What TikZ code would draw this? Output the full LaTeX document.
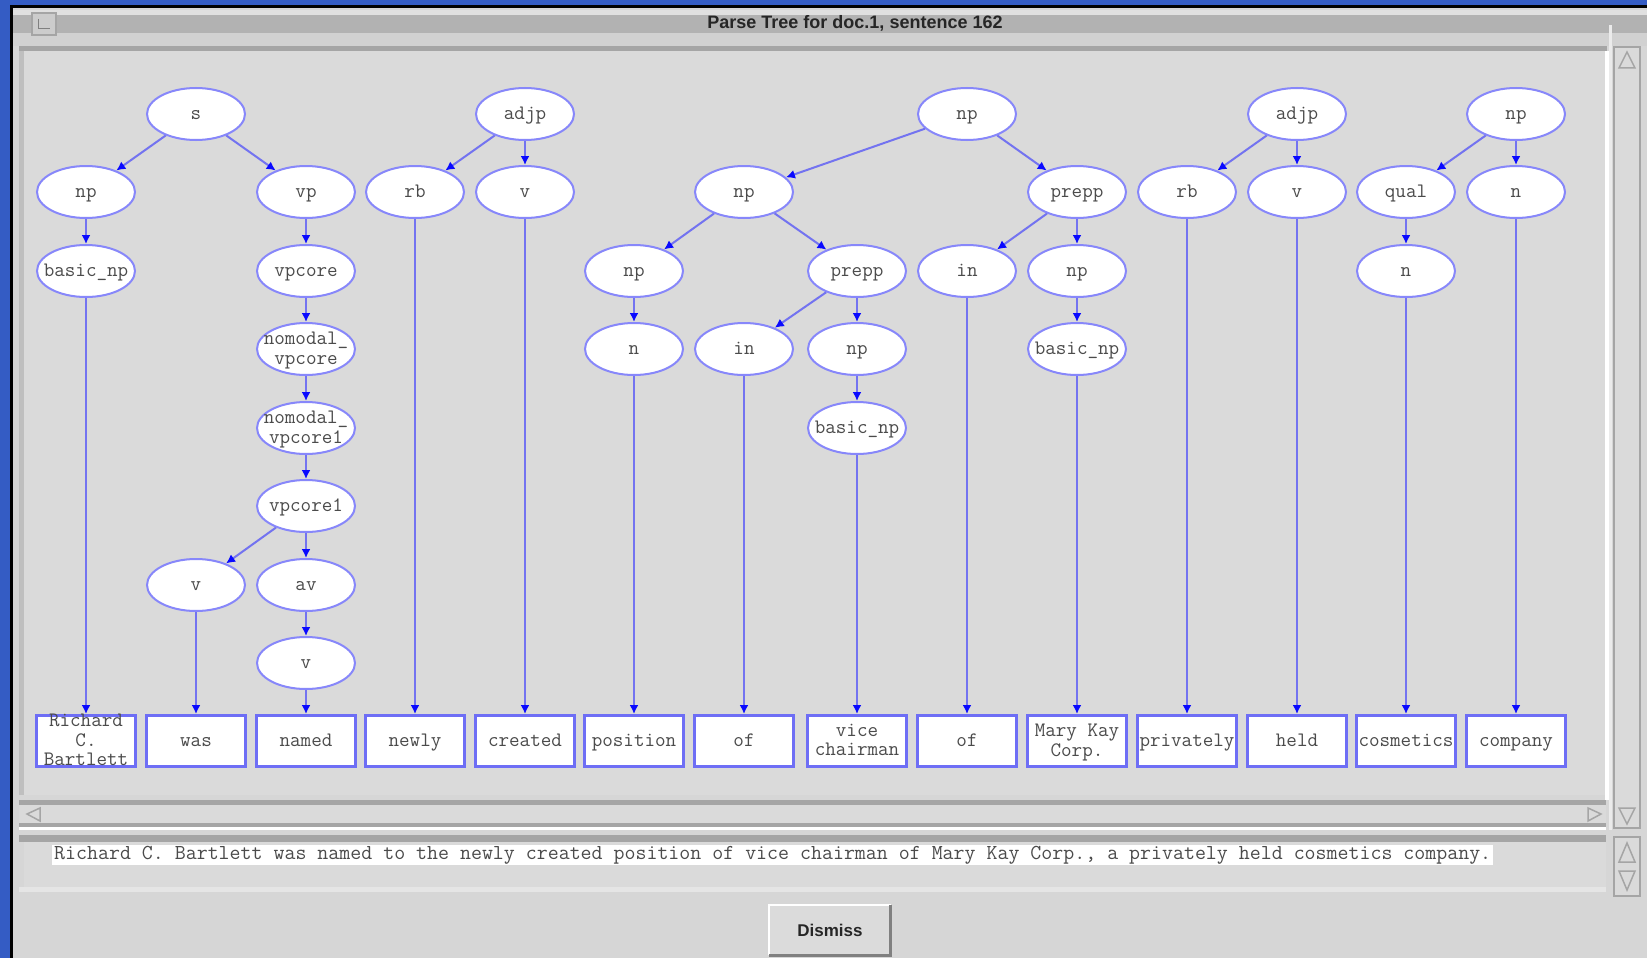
\documentclass[tikz,border=0pt]{standalone}
\usepackage{fontspec}
\setsansfont{Liberation Sans}
\usetikzlibrary{arrows.meta,shapes.geometric}
\definecolor{desk}{RGB}{52,92,196}
\definecolor{win}{RGB}{214,214,214}
\definecolor{canvasgray}{RGB}{218,218,218}
\definecolor{bar}{RGB}{178,178,178}
\definecolor{darkline}{RGB}{165,165,165}
\definecolor{edgeblue}{RGB}{115,115,240}
\definecolor{tipblue}{RGB}{10,10,255}
\definecolor{nodeblue}{RGB}{135,135,250}
\definecolor{boxblue}{RGB}{110,110,245}
\definecolor{labelgray}{RGB}{75,75,75}
\newcommand{\nfont}{\fontsize{20.5}{19.5}\selectfont\ttfamily}
\begin{document}
\begin{tikzpicture}[x=1pt,y=-1pt,
  lbl/.style={font=\nfont, text=labelgray, align=center, inner sep=0pt,
    yshift=-2pt,
    execute at begin node=\strut, execute at end node=\strut},
  pnode/.style={ellipse, draw=nodeblue, line width=2pt, fill=white,
    minimum width=98pt, minimum height=52pt, inner sep=0pt,
    label={[lbl]center:#1}},
  leaf/.style={rectangle, draw=boxblue, line width=3pt, fill=white,
    minimum width=99pt, minimum height=51pt, inner sep=0pt,
    label={[lbl]center:#1}},
  conn/.style={draw=edgeblue, line width=2pt,
    -{Latex[length=9pt,width=9pt,color=tipblue]}},
  sbar/.style={fill=canvasgray, draw=darkline, line width=2pt},
]
\useasboundingbox (0,0) rectangle (1647,958);
% desktop and window frame
\fill[desk] (0,0) rectangle (1647,958);
\fill[black] (10,5) rectangle (1647,958);
\fill[win] (13,8) rectangle (1647,958);
% title bar
\fill[white!88!black] (13,10) rectangle (1647,15);
\fill[bar] (13,15) rectangle (1647,33);
\fill[white!82!black] (13,33) rectangle (1647,46);
\fill[darkline] (19,46) rectangle (1607,51);
\draw[darkline, line width=1.5pt, fill=white!80!black] (32,13) rectangle (56,35);
\draw[gray, line width=1pt] (38,19) -- (38,29) -- (50,29);
\node[font=\fontsize{18}{18}\selectfont\sffamily\bfseries, text=black!85] (title) at (855,23) {Parse Tree for doc.1, sentence 162};
% canvas
\fill[canvasgray] (24,51) rectangle (1605,795);
\fill[white!75!black] (19,51) rectangle (24,795);
\fill[white] (1605,51) rectangle (1609,800);
% vertical scrollbar
\fill[white!92!black] (1609,25) rectangle (1612,830);
\draw[sbar] (1614,47) rectangle (1640,828);
\draw[darkline, line width=1.5pt] (1619,68) -- (1627,52) -- (1635,68) -- cycle;
\draw[darkline, line width=1.5pt] (1619,808) -- (1627,824) -- (1635,808) -- cycle;
% horizontal scrollbar
\fill[darkline] (19,800) rectangle (1606,805);
\fill[canvasgray] (19,805) rectangle (1606,823);
\fill[darkline] (19,823) rectangle (1606,827);
\fill[white] (19,827) rectangle (1606,830);
\draw[darkline, line width=1.5pt] (40,808) -- (27,814) -- (40,821) -- cycle;
\draw[darkline, line width=1.5pt] (1588,808) -- (1601,814) -- (1588,821) -- cycle;
% text area
\fill[darkline] (19,835) rectangle (1606,842);
\fill[canvasgray] (24,842) rectangle (1606,887);
\fill[white!90!black] (19,887) rectangle (1606,892);
\draw[sbar] (1614,837) rectangle (1640,896);
\draw[darkline, line width=1.5pt] (1619,862) -- (1627,843) -- (1635,862) -- cycle;
\draw[darkline, line width=1.5pt] (1619,871) -- (1627,890) -- (1635,871) -- cycle;
\node[anchor=west, fill=white, inner xsep=2pt, inner ysep=1pt,
  font=\fontsize{21.3}{21.3}\selectfont\ttfamily, text=labelgray] (sent) at (52,855)
  {Richard C. Bartlett was named to the newly created position of vice chairman of Mary Kay Corp., a privately held cosmetics company.};
% button
\node[fill=white!86!black, minimum width=121pt, minimum height=50pt, inner sep=0pt,
  font=\fontsize{17}{17}\selectfont\sffamily\bfseries, text=black!85] (dismiss) at (830,930) {Dismiss};
\draw[white, line width=2pt] (dismiss.south west) -- (dismiss.north west) -- (dismiss.north east);
\draw[gray, line width=3pt] (dismiss.north east) -- (dismiss.south east) -- (dismiss.south west);

% ---------- tree nodes ----------
% row 0
\node[pnode={s}] (s) at (196,114) {};
\node[pnode={adjp}] (adjpA) at (525,114) {};
\node[pnode={np}] (npTop) at (967,114) {};
\node[pnode={adjp}] (adjpB) at (1297,114) {};
\node[pnode={np}] (npC) at (1516,114) {};
% row 1
\node[pnode={np}] (np1) at (86,192) {};
\node[pnode={vp}] (vp) at (306,192) {};
\node[pnode={rb}] (rbA) at (415,192) {};
\node[pnode={v}] (vA) at (525,192) {};
\node[pnode={np}] (np2) at (744,192) {};
\node[pnode={prepp}] (prepp1) at (1077,192) {};
\node[pnode={rb}] (rbB) at (1187,192) {};
\node[pnode={v}] (vB) at (1297,192) {};
\node[pnode={qual}] (qual) at (1406,192) {};
\node[pnode={n}] (nC) at (1516,192) {};
% row 2
\node[pnode={basic\_np}] (bnp1) at (86,271) {};
\node[pnode={vpcore}] (vpcore) at (306,271) {};
\node[pnode={np}] (np3) at (634,271) {};
\node[pnode={prepp}] (prepp2) at (857,271) {};
\node[pnode={in}] (in1) at (967,271) {};
\node[pnode={np}] (np4) at (1077,271) {};
\node[pnode={n}] (nQ) at (1406,271) {};
% row 3
\node[pnode={nomodal\_\\vpcore}] (nom1) at (306,349) {};
\node[pnode={n}] (nPos) at (634,349) {};
\node[pnode={in}] (in2) at (744,349) {};
\node[pnode={np}] (np5) at (857,349) {};
\node[pnode={basic\_np}] (bnp2) at (1077,349) {};
% row 4
\node[pnode={nomodal\_\\vpcore1}] (nom2) at (306,428) {};
\node[pnode={basic\_np}] (bnp3) at (857,428) {};
% row 5
\node[pnode={vpcore1}] (vpc1) at (306,506) {};
% row 6
\node[pnode={v}] (vWas) at (196,585) {};
\node[pnode={av}] (av) at (306,585) {};
% row 7
\node[pnode={v}] (vNamed) at (306,663) {};
% leaves
\node[leaf={Richard\\C.\\Bartlett}] (w0) at (86,741) {};
\node[leaf={was}] (w1) at (196,741) {};
\node[leaf={named}] (w2) at (306,741) {};
\node[leaf={newly}] (w3) at (415,741) {};
\node[leaf={created}] (w4) at (525,741) {};
\node[leaf={position}] (w5) at (634,741) {};
\node[leaf={of}] (w6) at (744,741) {};
\node[leaf={vice\\chairman}] (w7) at (857,741) {};
\node[leaf={of}] (w8) at (967,741) {};
\node[leaf={Mary Kay\\Corp.}] (w9) at (1077,741) {};
\node[leaf={privately}] (w10) at (1187,741) {};
\node[leaf={held}] (w11) at (1297,741) {};
\node[leaf={cosmetics}] (w12) at (1406,741) {};
\node[leaf={company}] (w13) at (1516,741) {};

% ---------- edges ----------
\foreach \a/\b in {s/np1, s/vp, np1/bnp1, bnp1/w0,
  vp/vpcore, vpcore/nom1, nom1/nom2, nom2/vpc1, vpc1/vWas, vpc1/av,
  vWas/w1, av/vNamed, vNamed/w2,
  adjpA/rbA, adjpA/vA, rbA/w3, vA/w4,
  npTop/np2, npTop/prepp1, np2/np3, np2/prepp2, np3/nPos, nPos/w5,
  prepp2/in2, prepp2/np5, in2/w6, np5/bnp3, bnp3/w7,
  prepp1/in1, prepp1/np4, in1/w8, np4/bnp2, bnp2/w9,
  adjpB/rbB, adjpB/vB, rbB/w10, vB/w11,
  npC/qual, npC/nC, qual/nQ, nQ/w12, nC/w13}
  \draw[conn] (\a) -- (\b);
\end{tikzpicture}
\end{document}
